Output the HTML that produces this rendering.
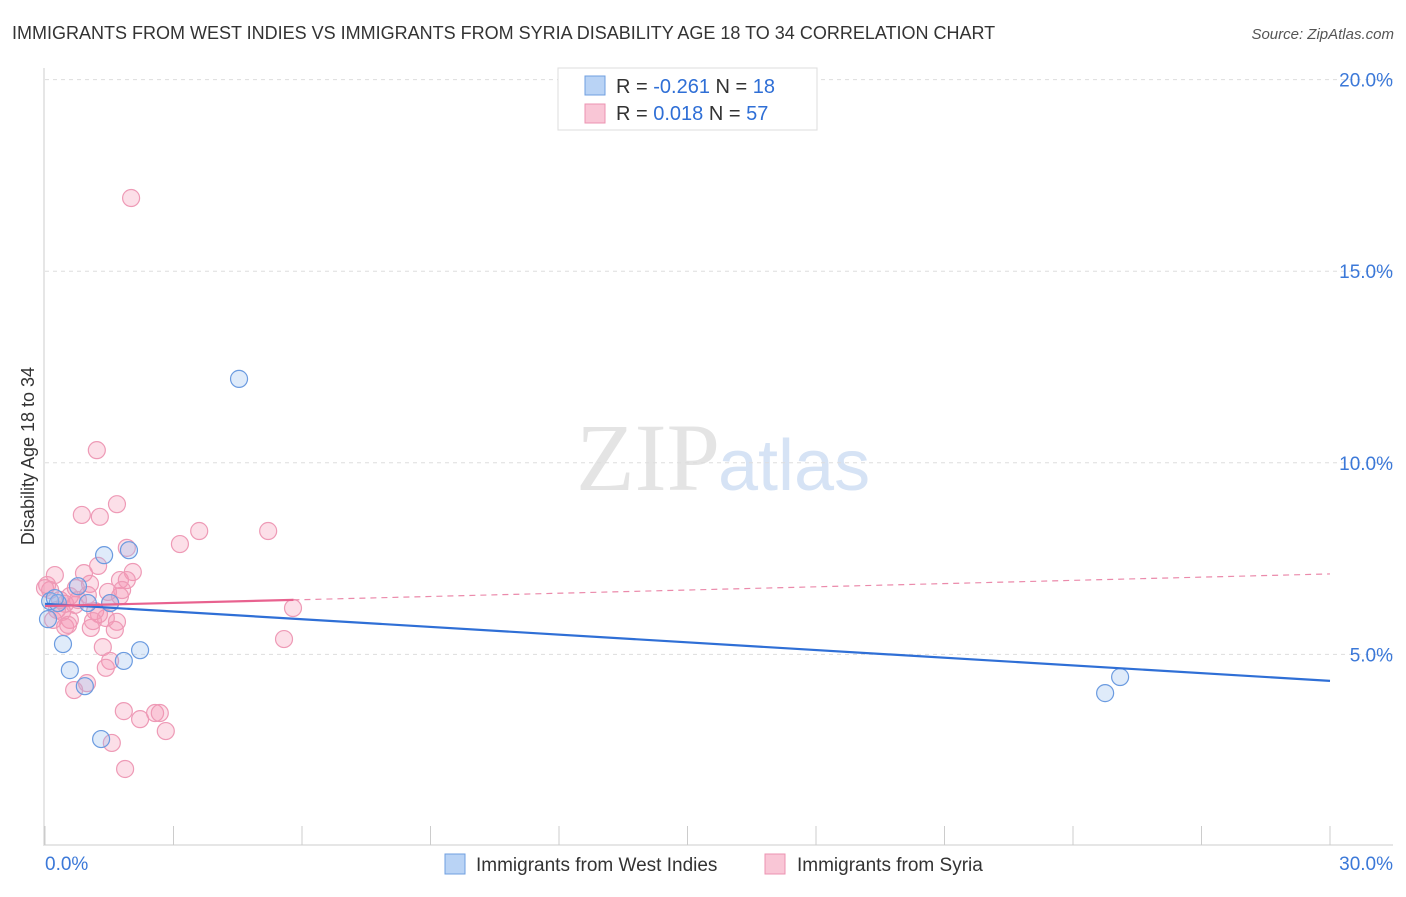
<!DOCTYPE html>
<html><head><meta charset="utf-8"><style>
body{margin:0;background:#fff;font-family:"Liberation Sans",sans-serif;}
svg text{font-family:"Liberation Sans",sans-serif;}
</style></head><body>
<svg id="c" width="1406" height="892">
<text x="12" y="39" font-size="18" fill="#333">IMMIGRANTS FROM WEST INDIES VS IMMIGRANTS FROM SYRIA DISABILITY AGE 18 TO 34 CORRELATION CHART</text>
<text x="1394" y="39" font-size="15" fill="#555" text-anchor="end" font-style="italic">Source: ZipAtlas.com</text>
<text x="34" y="456" font-size="18" fill="#333" text-anchor="middle" transform="rotate(-90 34 456)">Disability Age 18 to 34</text>
<text x="720" y="490" font-size="96" fill="#e4e4e4" text-anchor="end" font-family="Liberation Serif" style="font-family:'Liberation Serif',serif">ZIP</text>
<text x="718" y="490" font-size="72" fill="#d6e3f5">atlas</text>
<g id="grid"></g><g id="axes"></g><g id="pts"></g><g id="lines"></g>
<g>
<rect x="558" y="68" width="259" height="62" fill="#fff" stroke="#ddd"/>
<rect x="585" y="76" width="20" height="19" fill="#b9d3f5" stroke="#6f9fe0"/>
<rect x="585" y="104" width="20" height="19" fill="#f9c6d6" stroke="#ec93b1"/>
<text x="616" y="93" font-size="20" fill="#333">R = <tspan fill="#2f6fd6">-0.261</tspan>   N = <tspan fill="#2f6fd6">18</tspan></text>
<text x="616" y="120" font-size="20" fill="#333">R = <tspan fill="#2f6fd6"> 0.018</tspan>   N = <tspan fill="#2f6fd6">57</tspan></text>
</g>
<g>
<rect x="445" y="854" width="20" height="20" fill="#b9d3f5" stroke="#6f9fe0"/>
<text x="476" y="871" font-size="19" fill="#333">Immigrants from West Indies</text>
<rect x="765" y="854" width="20" height="20" fill="#f9c6d6" stroke="#ec93b1"/>
<text x="797" y="871" font-size="19" fill="#333">Immigrants from Syria</text>
</g>
</svg>
<script>
const yTicks=[5,10,15,20];
const yTickLabels=["5.0%","10.0%","15.0%","20.0%"];
const xTickLabels=["0.0%","30.0%"];
const blueX=[4.53,1.38,1.96,0.77,0.12,0.30,1.00,1.52,0.07,0.42,0.58,1.84,2.22,0.93,1.31,25.10,24.75,0.23];
const blueY=[12.19,7.59,7.72,6.78,6.39,6.34,6.34,6.34,5.92,5.27,4.59,4.83,5.11,4.17,2.79,4.41,3.99,6.47];
const pinkX=[2.01,1.21,0.86,1.28,1.68,5.21,3.60,3.15,1.91,2.05,1.75,1.91,1.24,0.91,1.05,0.72,0.12,0.00,0.35,0.40,0.58,0.47,0.70,1.17,1.52,1.42,1.68,1.07,1.63,1.26,1.12,1.35,1.52,1.42,0.68,0.98,0.19,0.54,5.79,5.58,1.84,2.22,2.57,2.68,2.82,1.56,1.87,0.05,0.23,1.00,0.77,0.47,1.75,1.80,0.28,0.58,1.47];
const pinkY=[16.91,10.33,8.64,8.59,8.92,8.22,8.22,7.88,7.78,7.15,6.94,6.94,7.31,7.12,6.84,6.73,6.68,6.73,6.42,6.11,5.90,5.72,6.29,6.13,6.34,5.95,5.85,5.69,5.64,6.05,5.87,5.19,4.83,4.65,4.07,4.25,5.90,5.77,6.21,5.40,3.52,3.31,3.47,3.47,3.00,2.69,2.01,6.81,7.07,6.55,6.42,6.32,6.52,6.68,6.16,6.52,6.63];
const blueFit=[6.32,-0.067];   // intercept, slope
const pinkFit=[6.26,0.028];
const X0=45,X1=1330,Y0=846,PXY=191.6/5;
const sx=v=>X0+v/30*(X1-X0), sy=v=>Y0-v*PXY;
const NS="http://www.w3.org/2000/svg";
function mk(p,t,a){const e=document.createElementNS(NS,t);for(const k in a)e.setAttribute(k,a[k]);p.appendChild(e);return e;}
const grid=document.getElementById('grid'),axes=document.getElementById('axes'),pts=document.getElementById('pts'),lines=document.getElementById('lines');
yTicks.forEach((t,i)=>{
 const g=mk(grid,'line',{x1:45,x2:1393,y1:sy(t),y2:sy(t),stroke:'#ddd','stroke-dasharray':'4,4'});
 
 
 const tx=mk(axes,'text',{x:1393,y:sy(t)+7,'font-size':19,fill:'#3b78d8','text-anchor':'end'});
 tx.textContent=yTickLabels[i];
 
 
});
const la=mk(axes,'line',{x1:44,x2:44,y1:68,y2:846,stroke:'#ccc'});


const ba=mk(axes,'line',{x1:45,x2:1393,y1:845,y2:845,stroke:'#ccc'});


for(let i=0;i<=10;i++){const t=mk(axes,'line',{x1:sx(i*3),x2:sx(i*3),y1:826,y2:845,stroke:'#ccc'});
 
 }
[[0,'start',45],[1,'end',1393]].forEach(([i,a,x])=>{const t=mk(axes,'text',{x:x,y:870,'font-size':19,fill:'#3b78d8','text-anchor':a});t.textContent=xTickLabels[i];
 
 });
pinkX.forEach((x,i)=>{const c=mk(pts,'circle',{cx:sx(x),cy:sy(pinkY[i]),r:8.5,fill:'rgba(245,150,180,0.3)',stroke:'#ee9ab6','stroke-width':1.2});
 
 });
blueX.forEach((x,i)=>{const c=mk(pts,'circle',{cx:sx(x),cy:sy(blueY[i]),r:8.5,fill:'rgba(150,190,240,0.3)',stroke:'#6b9be0','stroke-width':1.2});
 
 });
const bl=mk(lines,'line',{x1:sx(0),y1:sy(blueFit[0]),x2:sx(30),y2:sy(blueFit[0]+30*blueFit[1]),stroke:'#2f6fd6','stroke-width':2.2});


const pl=mk(lines,'line',{x1:sx(0),y1:sy(pinkFit[0]),x2:sx(5.8),y2:sy(pinkFit[0]+5.8*pinkFit[1]),stroke:'#e8628f','stroke-width':2.2});


const pd=mk(lines,'line',{x1:sx(5.8),y1:sy(pinkFit[0]+5.8*pinkFit[1]),x2:sx(30),y2:sy(pinkFit[0]+30*pinkFit[1]),stroke:'#eb8aab','stroke-width':1.2,'stroke-dasharray':'6,5'});


</script>
</body></html>
